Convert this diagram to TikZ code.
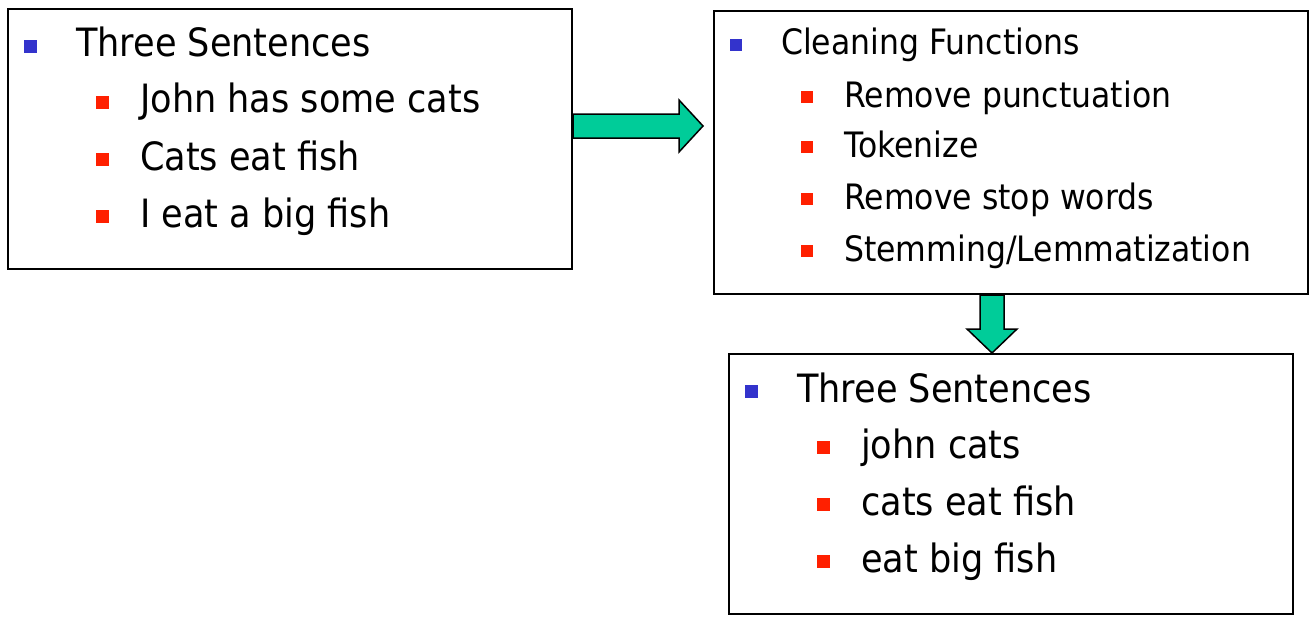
\documentclass[tikz,border=0pt]{standalone}
\usepackage{fontspec}
\setmainfont[FakeStretch=0.9]{DejaVu Sans}
\usetikzlibrary{positioning,calc}

\definecolor{bblue}{RGB}{51,51,204}
\definecolor{bred}{RGB}{255,32,0}
\definecolor{fatgreen}{RGB}{0,204,153}

\newcommand{\bbul}[1]{\textcolor{bblue}{\rule[4pt]{#1}{#1}}\hspace{39pt}}
\newcommand{\rbul}[1]{\textcolor{bred}{\rule[4pt]{#1}{#1}}\hspace{31pt}}

\begin{document}
\begin{tikzpicture}[x=1pt,y=-1pt,
    box/.style={draw, line width=2pt, inner sep=0pt},
    item/.style={anchor=base west, inner sep=0pt, font=\fontsize{39}{39}\selectfont},
    small/.style={font=\fontsize{35}{35}\selectfont},
    fat/.style={draw, line width=1.5pt, fill=fatgreen, line join=miter}]
   \useasboundingbox (0,0) rectangle (1315,618);

   % the three boxes
   \node[box, minimum width=564pt, minimum height=260pt] (A) at (290,139) {} ; %
   \node[box, minimum width=594pt, minimum height=283pt] (B) at (1011,152.5) {} ; %
   \node[box, minimum width=564pt, minimum height=260pt] (C) at (1011,484) {} ; %

   % raw sentences
   \node[item] (A0) at (24,57)  {\bbul{13pt}Three Sentences} ; %
   \node[item] (A1) at (96,113) {\rbul{13pt}John has some cats} ; %
   \node[item] (A2) at (96,170) {\rbul{13pt}Cats eat fish} ; %
   \node[item] (A3) at (96,227) {\rbul{13pt}I eat a big fish} ; %

   % cleaning steps
   \node[item, small] (B0) at (730,55)  {\bbul{12pt}Cleaning Functions} ; %
   \node[item, small] (B1) at (801,107) {\rbul{12pt}Remove punctuation} ; %
   \node[item, small] (B2) at (801,157) {\rbul{12pt}Tokenize} ; %
   \node[item, small] (B3) at (801,209) {\rbul{12pt}Remove stop words} ; %
   \node[item, small] (B4) at (801,261) {\rbul{12pt}Stemming/Lemmatization} ; %

   % cleaned sentences
   \node[item] (C0) at (745,402) {\bbul{13pt}Three Sentences} ; %
   \node[item] (C1) at (817,458) {\rbul{13pt}john cats} ; %
   \node[item] (C2) at (817,515) {\rbul{13pt}cats eat fish} ; %
   \node[item] (C3) at (817,572) {\rbul{13pt}eat big fish} ; %

   % block arrows
   \coordinate (r0) at ($(A.east)+(0,-13)$) ;
   \coordinate (r1) at ($(B.west)+(-10,-26.5)$) ;
   \draw[fat] ($(r0)+(0,-12)$) -- ($(r1)+(-24,-12)$) -- ($(r1)+(-24,-26)$) -- (r1)
      -- ($(r1)+(-24,26)$) -- ($(r1)+(-24,12)$) -- ($(r0)+(0,12)$) -- cycle ;

   \coordinate (d0) at ($(B.south)+(-19,0)$) ;
   \coordinate (d1) at ($(C.north)+(-19,0)$) ;
   \draw[fat] ($(d0)+(-12,0)$) -- ($(d1)+(-12,-24)$) -- ($(d1)+(-25,-24)$) -- (d1)
      -- ($(d1)+(25,-24)$) -- ($(d1)+(12,-24)$) -- ($(d0)+(12,0)$) -- cycle ;

\end{tikzpicture}
\end{document}
